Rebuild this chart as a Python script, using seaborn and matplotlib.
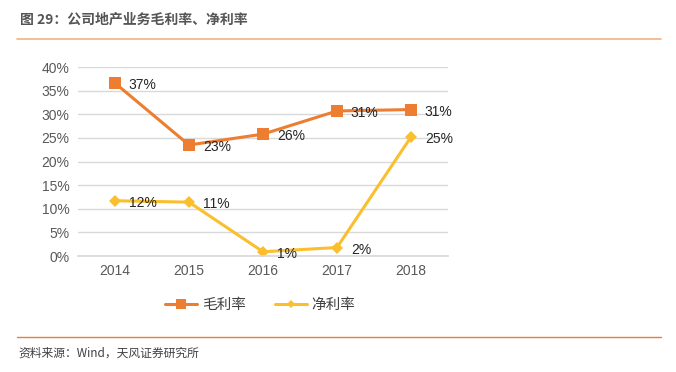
import pandas as pd
import seaborn as sns
import matplotlib.pyplot as plt
from matplotlib.ticker import PercentFormatter

years = ['2014', '2015', '2016', '2017', '2018']
gross_margin = [36.6, 23.5, 25.8, 30.7, 31.0]
net_margin = [11.7, 11.4, 0.9, 1.8, 25.2]
gross_labels = ['37%', '23%', '26%', '31%', '31%']
net_labels = ['12%', '11%', '1%', '2%', '25%']

sns.set_theme(style='white')
plt.rcParams['font.family'] = ['Liberation Sans', 'Noto Sans CJK SC', 'DejaVu Sans']

df = pd.DataFrame({
    'year': years * 2,
    'value': gross_margin + net_margin,
    'series': ['毛利率'] * 5 + ['净利率'] * 5,
})

fig = plt.figure(figsize=(6.76, 3.72), dpi=100)
ax = fig.add_axes([0.1154, 0.3118, 0.5473, 0.508])

palette = {'毛利率': '#ED7D31', '净利率': '#FBBF2E'}
markers = {'毛利率': 's', '净利率': 'D'}
sizes = {'毛利率': 9, '净利率': 6}

for name in ['毛利率', '净利率']:
    sub = df[df['series'] == name]
    sns.lineplot(data=sub, x='year', y='value', color=palette[name], marker=markers[name],
                 markersize=sizes[name], markeredgewidth=0, linewidth=2.2, ax=ax, label=name)

for i, (g, n) in enumerate(zip(gross_margin, net_margin)):
    ax.annotate(gross_labels[i], (i, g), xytext=(10, -1.5), textcoords='offset points',
                fontsize=10, color='#262626', va='center', ha='left')
    ax.annotate(net_labels[i], (i, n), xytext=(10, -1.5), textcoords='offset points',
                fontsize=10, color='#262626', va='center', ha='left')

ax.set_xlim(-0.5, 4.5)
ax.set_ylim(0, 40)
ax.set_yticks(range(0, 41, 5))
ax.yaxis.set_major_formatter(PercentFormatter(decimals=0))
ax.grid(axis='y', color='#D9D9D9', linewidth=1)
ax.set_axisbelow(True)
for s in ax.spines.values():
    s.set_visible(False)
ax.spines['bottom'].set_visible(True)
ax.spines['bottom'].set_color('#D9D9D9')
ax.tick_params(axis='both', length=0, labelsize=10, labelcolor='#595959', pad=6)
ax.set_xlabel('')
ax.set_ylabel('')

ax.legend_.remove()
handles, labels = ax.get_legend_handles_labels()
fig.legend(handles, labels, loc='center', bbox_to_anchor=(0.385, 0.18), ncol=2, frameon=False,
           prop={'family': ['Noto Sans CJK SC', 'DejaVu Sans'], 'size': 10.5}, labelcolor='#404040',
           handlelength=2.2, columnspacing=2.0, handletextpad=0.3, markerscale=0.75)

fig.text(0.03, 0.946, '图 29：公司地产业务毛利率、净利率', fontsize=10, fontweight='bold',
         color='#555555', family=['Noto Sans CJK SC', 'DejaVu Sans'], va='center')
fig.add_artist(plt.Line2D([0.025, 0.978], [0.895, 0.895], color='#F4B183', linewidth=1.2))
fig.add_artist(plt.Line2D([0.025, 0.978], [0.094, 0.094], color='#ED7D31', linewidth=1.0))
fig.text(0.027, 0.052, '资料来源：Wind，天风证券研究所', fontsize=8.5, color='#404040',
         family=['Noto Sans CJK SC', 'DejaVu Sans'], va='center')

fig.savefig('out.png', dpi=100)
